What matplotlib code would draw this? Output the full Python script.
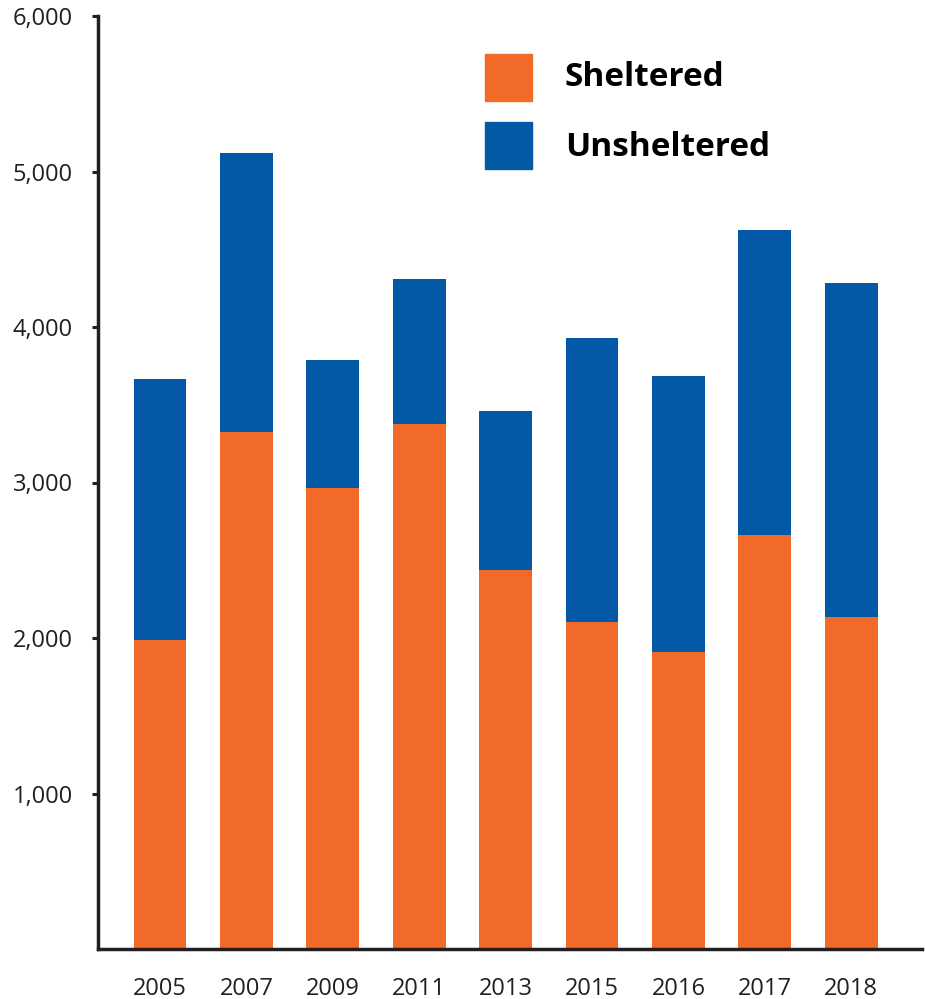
import numpy as np
import matplotlib
matplotlib.use('Agg')
from matplotlib import pyplot as plt
from matplotlib.patches import Rectangle

years = ['2005', '2007', '2009', '2011', '2013', '2015', '2016', '2017', '2018']
sheltered = [1990, 3325, 2965, 3375, 2435, 2100, 1910, 2660, 2135]
total = [3665, 5120, 3790, 4310, 3460, 3930, 3685, 4625, 4285]
unsheltered = [t - s for t, s in zip(total, sheltered)]
yticks = [1000, 2000, 3000, 4000, 5000, 6000]
series = ['Sheltered', 'Unsheltered']

orange = '#f26a27'
blue = '#0359a6'
ink = '#231f20'

plt.rcParams['font.family'] = ['Open Sans', 'DejaVu Sans']

W, H = 925, 999
fig = plt.figure(figsize=(W/100, H/100), dpi=100)
ax = fig.add_axes([98/W, 1 - 949/H, (922-98)/W, (949-16)/H])

x = np.arange(len(years))
ax.bar(x, sheltered, width=0.61, color=orange)
ax.bar(x, unsheltered, bottom=sheltered, width=0.61, color=blue)

ax.set_xlim(-0.718, 8.82)
ax.set_ylim(0, 6000)
ax.set_yticks(yticks)
ax.set_yticklabels([f'{v:,}' for v in yticks], fontsize=17, color=ink)
ax.set_xticks(x)
ax.set_xticklabels(years, fontsize=17, color=ink)
ax.tick_params(axis='x', length=0, pad=20)
ax.tick_params(axis='y', length=4.3, width=2.2, color=ink, pad=14)

for s in ['top', 'right']:
    ax.spines[s].set_visible(False)
for s in ['left', 'bottom']:
    ax.spines[s].set_linewidth(2.5)
    ax.spines[s].set_color(ink)

# legend drawn by hand (pixel layout of the original)
for i, (name, col) in enumerate(zip(series, [orange, blue])):
    top = 54 + i * 68
    fig.patches.append(Rectangle((485/W, 1 - (top + 47)/H), 47/W, 47/H,
                                 transform=fig.transFigure, color=col))
    fig.text(565/W, 1 - (top + 24 + i * 2)/H, name, fontsize=24, fontweight='bold',
             color='black', va='center', ha='left')

fig.savefig('out.png', dpi=100)
